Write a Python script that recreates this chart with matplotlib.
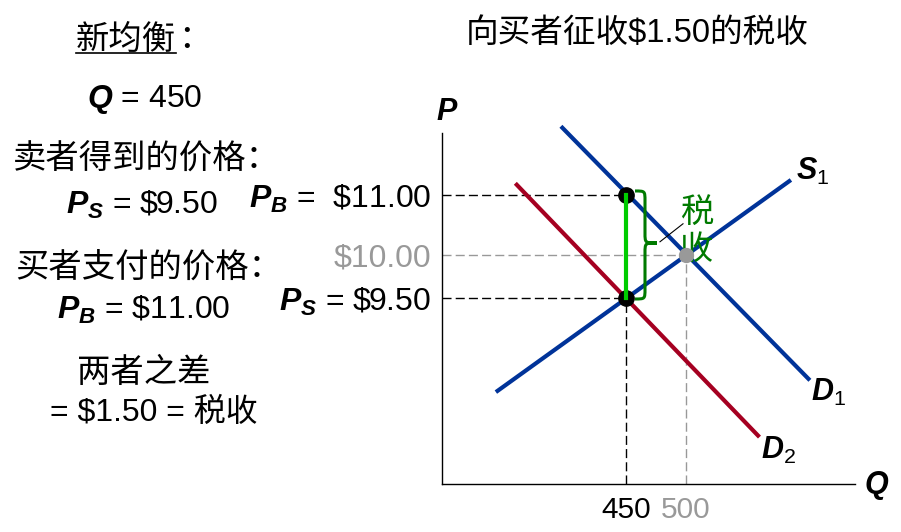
import numpy as np
import matplotlib
matplotlib.use("Agg")
import matplotlib.pyplot as plt
from matplotlib.path import Path
from matplotlib.patches import PathPatch
from matplotlib.transforms import IdentityTransform

plt.rcParams["font.family"] = ["Liberation Sans", "Noto Sans CJK SC"]
plt.rcParams["mathtext.fontset"] = "custom"
plt.rcParams["mathtext.it"] = "Liberation Sans:italic:bold"
plt.rcParams["mathtext.rm"] = "Liberation Sans"
plt.rcParams["mathtext.bf"] = "Liberation Sans:bold"

# equilibrium values
q_old, q_new = 500, 450
p_old, p_buyer, p_seller = 10.00, 11.00, 9.50

# curve end points (Q, P)
s1_q, s1_p = [343, 586], [8.42, 11.23]
d1_q, d1_p = [397, 602], [12.12, 8.56]
d2_q, d2_p = [359, 560], [11.17, 7.90]

q_ticks = [450, 500]
q_tick_labels = ["450", "500"]
p_ticks = [11.00, 10.00, 9.50]
p_tick_labels = [r"$P_B$ =  \$11.00", "$10.00", r"$P_S$ = \$9.50"]

title = "向买者征收$1.50的税收"
tax_label = "税\n收"

BLUE = "#003399"
RED = "#A50021"
GREEN = "#00CC00"
DKGREEN = "#007A00"
GRAY = "#999999"

W, H = 901, 532
fig = plt.figure(figsize=(W / 100, H / 100), dpi=100)


def fx(x):
    return x / W


def fy(y):
    return 1 - y / H


ax = fig.add_axes([fx(442), fy(484), (855 - 442) / W, (484 - 133) / H])


# the diagram is not to scale: 1 unit of price is 60 px above $10, 86 px below
def p_fwd(p):
    p = np.asarray(p, float)
    return np.where(p < p_old, (p - p_old) * 86, (p - p_old) * 60)


def p_inv(s):
    s = np.asarray(s, float)
    return np.where(s < 0, p_old + s / 86, p_old + s / 60)


ax.set_yscale("function", functions=(p_fwd, p_inv))
ax.set_xlim(296.7, 640.8)
ax.set_ylim(7.337, 12.033)

for side in ["top", "right"]:
    ax.spines[side].set_visible(False)
for side in ["left", "bottom"]:
    ax.spines[side].set_linewidth(1.0)

x0, x1 = ax.get_xlim()
y0, y1 = ax.get_ylim()

# dashed guide lines
ax.plot([x0, q_old], [p_old, p_old], color=GRAY, lw=1, dashes=(6.5, 3))
ax.plot([q_old, q_old], [y0, p_old], color=GRAY, lw=1, dashes=(6.5, 3))
ax.plot([x0, q_new], [p_buyer, p_buyer], color="black", lw=1, dashes=(6.5, 3))
ax.plot([x0, q_new], [p_seller, p_seller], color="black", lw=1, dashes=(6.5, 3))
ax.plot([q_new, q_new], [y0, p_seller], color="black", lw=1, dashes=(6.5, 3))

# supply and demand
ax.plot(s1_q, s1_p, color=BLUE, lw=3, clip_on=False)
ax.plot(d1_q, d1_p, color=BLUE, lw=3, clip_on=False)
ax.plot(d2_q, d2_p, color=RED, lw=3, clip_on=False)

ax.plot(q_old, p_old, "o", ms=10, color=GRAY, zorder=5)
ax.plot([q_new, q_new], [p_buyer, p_seller], "o", ms=11, color="black", zorder=5)
ax.plot([q_new, q_new], [p_seller, p_buyer], color=GREEN, lw=3, zorder=6)

# curve labels
ax.annotate(r"$S_1$", (s1_q[1], s1_p[1]), xytext=(5, 7), textcoords="offset points",
            fontsize=22, ha="left", va="center", annotation_clip=False)
ax.annotate(r"$D_1$", (d1_q[1], d1_p[1]), xytext=(2, -10), textcoords="offset points",
            fontsize=22, ha="left", va="center", annotation_clip=False)
ax.annotate(r"$D_2$", (d2_q[1], d2_p[1]), xytext=(2, -11), textcoords="offset points",
            fontsize=22, ha="left", va="center", annotation_clip=False)

# ticks
ax.set_xticks(q_ticks, q_tick_labels, fontsize=21.5)
ax.set_yticks(p_ticks, p_tick_labels, fontsize=23)
ax.tick_params(length=0)
ax.tick_params(axis="x", pad=9)
ax.tick_params(axis="y", pad=8)
ax.get_xticklabels()[1].set_color(GRAY)
ax.get_yticklabels()[1].set_color(GRAY)

# brace showing the tax wedge
(bx, by_top), (_, by_bot) = ax.transData.transform([[q_new, p_buyer], [q_new, p_seller]])
xa, xm, xt = bx + 9, bx + 19, bx + 31
yt, yb = by_top + 4, by_bot - 1
ym, r = (yt + yb) / 2 + 2, 10
verts = [(xa, yt), (xm, yt), (xm, yt), (xm, yt - r),
         (xm, ym + r),
         (xm, ym), (xm, ym), (xt, ym),
         (xm, ym), (xm, ym), (xm, ym - r),
         (xm, yb + r),
         (xm, yb), (xm, yb), (xa, yb)]
codes = [Path.MOVETO, Path.CURVE4, Path.CURVE4, Path.CURVE4,
         Path.LINETO,
         Path.CURVE4, Path.CURVE4, Path.CURVE4,
         Path.CURVE4, Path.CURVE4, Path.CURVE4,
         Path.LINETO,
         Path.CURVE4, Path.CURVE4, Path.CURVE4]
fig.add_artist(PathPatch(Path(verts, codes), fill=False, ec=DKGREEN, lw=2.2,
                         transform=IdentityTransform()))

ax.plot([478.3, 497.5], [10.22, 10.52], color="black", lw=0.8)
ax.text(509, 10.38, tax_label, color=DKGREEN, fontsize=24, ha="center", va="center",
        linespacing=1.2)

# axis names
fig.text(fx(447), fy(112), r"$P$", fontsize=22, ha="center", va="center")
fig.text(fx(877), fy(485), r"$Q$", fontsize=22, ha="center", va="center")

fig.text(fx(637), fy(33), title, fontsize=23.5, ha="center", va="center")

# left hand text block
t = fig.text(fx(76), fy(40), "新均衡", fontsize=24, ha="left", va="center")
fig.text(fx(178), fy(40), "：", fontsize=24, ha="left", va="center")
fig.canvas.draw()
bb = t.get_window_extent()
fig.add_artist(plt.Line2D([bb.x0 / W, bb.x1 / W], [fy(53), fy(53)], color="black", lw=1.2))

fig.text(fx(145), fy(100), r"$Q$ = 450", fontsize=23, ha="center", va="center")
fig.text(fx(13), fy(160), "卖者得到的价格：", fontsize=24, ha="left", va="center")
fig.text(fx(142), fy(205), r"$P_S$ = \$9.50", fontsize=23, ha="center", va="center")
fig.text(fx(15), fy(268), "买者支付的价格：", fontsize=24, ha="left", va="center")
fig.text(fx(144), fy(310), r"$P_B$ = \$11.00", fontsize=23, ha="center", va="center")
fig.text(fx(144), fy(373), "两者之差", fontsize=24, ha="center", va="center")
fig.text(fx(154), fy(413), "= $1.50 = 税收", fontsize=23, ha="center", va="center")

fig.savefig("out.png", dpi=100)
